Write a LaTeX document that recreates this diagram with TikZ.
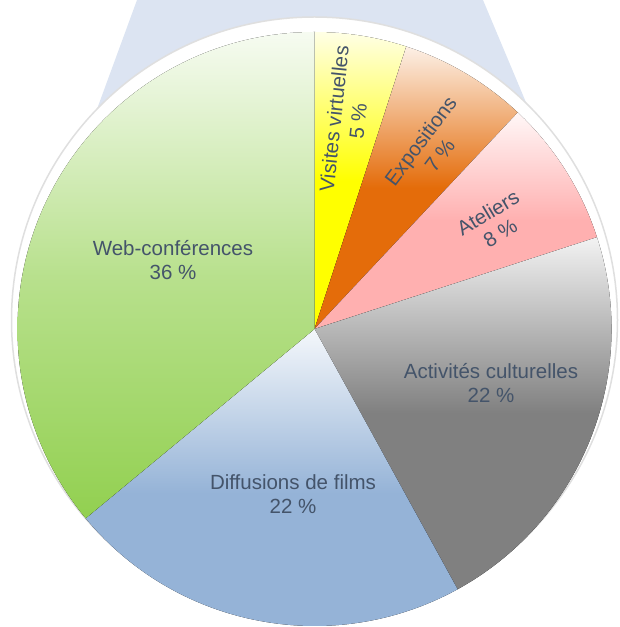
\documentclass[tikz,border=0pt]{standalone}
\usepackage{fontspec}
\setmainfont{Liberation Sans}

\definecolor{zoomblue}{HTML}{DCE4F2}
\definecolor{labelslate}{HTML}{44546A}
\definecolor{webgreen}{HTML}{92D050}
\definecolor{visyellow}{HTML}{FFFF00}
\definecolor{expoorange}{HTML}{E46C0A}
\definecolor{atpink}{HTML}{FFB0B0}
\definecolor{actgrey}{HTML}{808080}
\definecolor{diffblue}{HTML}{95B3D7}

\begin{document}
\begin{tikzpicture}[x=1pt,y=1pt]
      \tikzset{
        sector/.style={top color=#1!10,bottom color=#1,middle color=#1},
        every node/.style={text=labelslate,align=center,inner sep=0pt,font=\fontsize{20.5}{24}\selectfont}
      }
      \useasboundingbox (0,0) rectangle (619,627);

      % zoom band behind the pie
      \fill[zoomblue] (137,627) -- (483,627) -- (546,477) -- (82,477) -- cycle;

      \coordinate (c) at (314.5,298);

      % white rim
      \fill[white,draw=gray!25,line width=1.5pt] (314.5,307) circle[radius=303];

      \fill[sector=visyellow] (c) -- ++(72:297) arc[start angle=72,end angle=90,radius=297] -- cycle;
      \fill[sector=expoorange] (c) -- ++(46.8:297) arc[start angle=46.8,end angle=72,radius=297] -- cycle;
      \fill[sector=atpink] (c) -- ++(18:297) arc[start angle=18,end angle=46.8,radius=297] -- cycle;
      \fill[sector=actgrey] (c) -- ++(-61.2:297) arc[start angle=-61.2,end angle=18,radius=297] -- cycle;
      \fill[sector=diffblue] (c) -- ++(-140.4:297) arc[start angle=-140.4,end angle=-61.2,radius=297] -- cycle;
      \fill[top color=webgreen!8,bottom color=webgreen,middle color=webgreen!65] (c) -- ++(90:297) arc[start angle=90,end angle=219.6,radius=297] -- cycle;

      \node (web) at (173,367) {Web-conférences\\36~\%};
      \node (act) at (491,244) {Activités culturelles\\22~\%};
      \node (diff) at (293,133) {Diffusions de films\\22~\%};
      \node[rotate=84] (vis) at (346,507) {Visites virtuelles\\5~\%};
      \node[rotate=53] (expo) at (430,479) {Expositions\\7~\%};
      \node[rotate=31] (at) at (494,404) {Ateliers\\8~\%};
    \end{tikzpicture}
\end{document}
